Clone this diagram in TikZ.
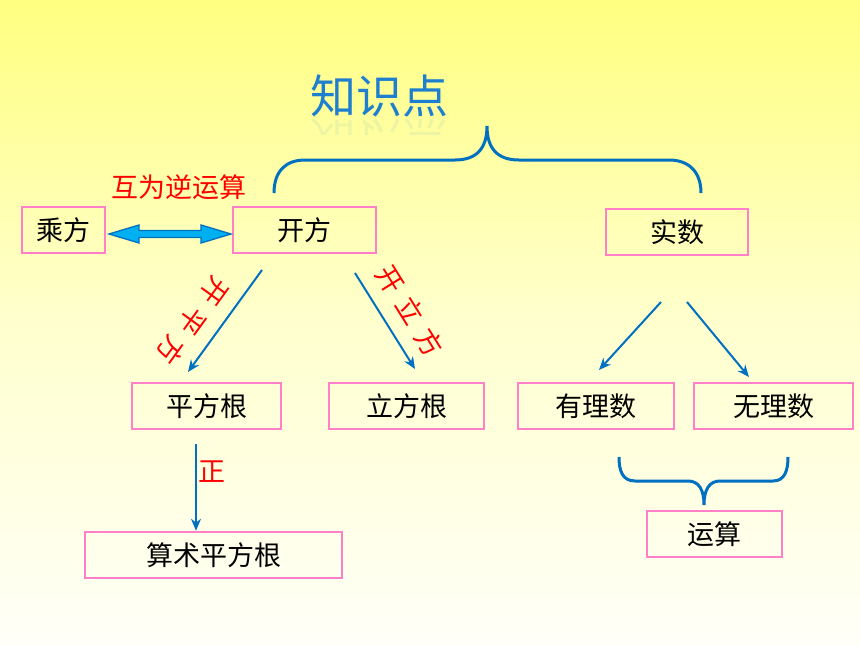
\documentclass[tikz,border=0pt]{standalone}
\usepackage{fontspec}
\newfontfamily\cjk{Noto Sans CJK SC}
\usetikzlibrary{arrows.meta}
\definecolor{bgtop}{HTML}{FFFF80}
\definecolor{bgbot}{HTML}{FFFFF8}
\definecolor{pinkb}{HTML}{FF80C8}
\definecolor{lineb}{HTML}{0070C0}
\definecolor{cyanf}{HTML}{00B0F0}
\definecolor{titleb}{HTML}{1E7FD0}
\tikzset{
  box/.style={draw=pinkb, line width=2.5pt, inner sep=0pt, font=\cjk\fontsize{27}{27}\selectfont, text=black},
  conn/.style={draw=lineb, line width=2pt, -{Stealth[length=12pt,width=10pt]}},
  redlab/.style={font=\cjk\fontsize{27}{27}\selectfont, text=red, inner sep=0pt},
  brace/.style={draw=lineb, line width=3pt}
}
\begin{document}
\begin{tikzpicture}[x=1pt,y=-1pt]
\shade[top color=bgtop, bottom color=bgbot, middle color=bgtop!35!bgbot, shading angle=0] (0,0) rectangle (860,645);
\useasboundingbox (0,0) rectangle (860,645);

% title with faint reflection
\node[font=\cjk\fontsize{46}{46}\selectfont, text=titleb, inner sep=0pt] (title) at (379,96) {知识点};
\begin{scope}
\clip (300,119) rectangle (460,134);
\node[font=\cjk\fontsize{46}{46}\selectfont, text=titleb, opacity=0.08, inner sep=0pt, yscale=-1] (titleref) at (379,140) {知识点};
\end{scope}

% nodes
\node[box, minimum width=83pt, minimum height=46pt] (cf) at (63.5,230) {乘方};
\node[box, minimum width=143pt, minimum height=46pt] (kf) at (304.5,230) {开方};
\node[box, minimum width=142pt, minimum height=46pt] (ss) at (677,232) {实数};
\node[box, minimum width=149pt, minimum height=46pt] (pfg) at (206.5,406) {平方根};
\node[box, minimum width=155pt, minimum height=46pt] (lfg) at (406.5,406) {立方根};
\node[box, minimum width=156pt, minimum height=46pt] (yls) at (596,406) {有理数};
\node[box, minimum width=159pt, minimum height=46pt] (wls) at (773.5,406) {无理数};
\node[box, minimum width=257pt, minimum height=46pt] (sspfg) at (213.5,555) {算术平方根};
\node[box, minimum width=135pt, minimum height=46pt] (ys) at (714.5,534) {运算};

% double block arrow
\draw[draw=lineb, fill=cyanf, line width=1.3pt, line join=miter]
  (109,234) -- (139,225) -- (139,230.5) -- (201,230.5) -- (201,225) -- (231,234)
  -- (201,243) -- (201,237.5) -- (139,237.5) -- (139,243) -- cycle;
\node[redlab] (hw) at (179,187) {互为逆运算};

% connectors
\coordinate (a1) at (262,270);
\coordinate (a1e) at (188,372);
\draw[conn] (a1) -- (a1e);
\coordinate (a2) at (355,273);
\coordinate (a2e) at (415,369);
\draw[conn] (a2) -- (a2e);
\coordinate (a3) at (661,302);
\coordinate (a3e) at (599,370);
\draw[conn] (a3) -- (a3e);
\coordinate (a4) at (687,302);
\coordinate (a4e) at (749,377);
\draw[conn] (a4) -- (a4e);
\coordinate (a5) at (196,444);
\draw[conn] (a5) -- (sspfg.north -| a5);

% rotated labels
\node[redlab, rotate=-126] (kpf) at (193,321) {开\hspace{10pt}平\hspace{10pt}方};
\node[redlab, rotate=-58] (klf) at (410,311) {开\hspace{10pt}立\hspace{10pt}方};
\node[redlab] (zheng) at (212,472) {正};

% big brace
\draw[brace] (274,193) .. controls (274,172) and (285,160) .. (305,160)
  -- (455,160) .. controls (477,160) and (487,148) .. (487,126)
  .. controls (487,148) and (497,160) .. (519,160)
  -- (669,160) .. controls (689,160) and (701,172) .. (701,193);

% small brace
\draw[brace] (619,457) .. controls (619,470) and (622,481) .. (635,481)
  -- (688,481) .. controls (699,481) and (704,490) .. (704,505)
  .. controls (704,490) and (709,481) .. (720,481)
  -- (773,481) .. controls (785,481) and (788,470) .. (788,457);
\end{tikzpicture}
\end{document}
